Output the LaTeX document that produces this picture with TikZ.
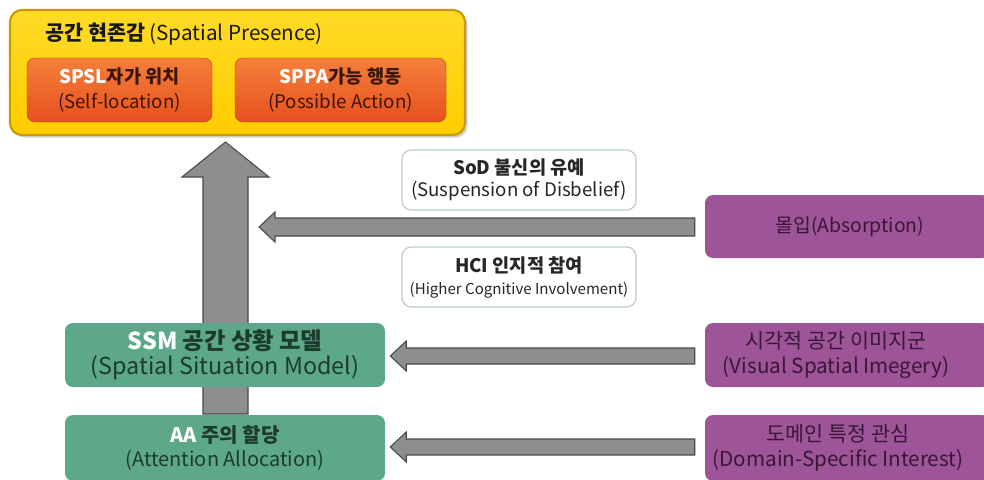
\documentclass[tikz,border=0pt]{standalone}
\usepackage{fontspec}
\setmainfont{Noto Sans CJK KR}
\usetikzlibrary{calc,shadows}
\definecolor{goldfill}{HTML}{FFD400}
\definecolor{goldedge}{HTML}{C99A00}
\definecolor{orangetop}{HTML}{F5803A}
\definecolor{orangebot}{HTML}{E6501E}
\definecolor{orangetxt}{HTML}{3B1606}
\definecolor{greenfill}{HTML}{5DA88A}
\definecolor{greentxt}{HTML}{1D3A2E}
\definecolor{purplefill}{HTML}{9D5498}
\definecolor{purpletxt}{HTML}{3A1637}
\definecolor{arrowgray}{HTML}{8E8E8E}
\definecolor{arrowedge}{HTML}{4A4A4A}
\definecolor{boxedge}{HTML}{B9CFC6}
\newcommand{\fsz}[2]{\fontsize{#1}{#2}\selectfont}
\tikzset{
  x=0.75pt, y=-0.75pt,
  presence/.style={rounded corners=9pt, draw=goldedge, line width=1.6pt,
    top color=goldfill!85!white, bottom color=goldfill!92!orange,
    drop shadow={shadow xshift=2pt, shadow yshift=-2pt, opacity=0.35},
    minimum width=341.25pt, minimum height=93.75pt},
  subbox/.style={rounded corners=6pt, top color=orangetop, bottom color=orangebot,
    draw=orangebot!80!black, line width=0.3pt, text=orangetxt,
    minimum width=#1, minimum height=48pt, align=center, font=\fsz{14}{18.5}},
  notebox/.style={rounded corners=7pt, fill=white, draw=boxedge, line width=0.9pt,
    minimum width=175.5pt, minimum height=45pt, align=center, text=black!85,
    font=\fsz{14}{16.5}},
  stagebox/.style={rounded corners=6pt, fill=greenfill, draw=none, text=greentxt,
    minimum width=240pt, minimum height=48pt, align=center},
  factorbox/.style={rounded corners=6pt, fill=purplefill, draw=none,
    minimum width=213.75pt, minimum height=48pt},
  factortext/.style={text=purpletxt, align=center, font=\fsz{15.5}{18.75}},
  arrowbody/.style={fill=arrowgray, draw=arrowedge, line width=0.8pt, line join=miter},
}
\begin{document}
\begin{tikzpicture}
\useasboundingbox (0,0) rectangle (984,479);
\begin{scope}
\clip (0,0) rectangle (984,479);

% main upward arrow, behind the stage boxes
\coordinate (upTip) at (225.5,142);
\coordinate (upFoot) at (225.5,414);
\draw[arrowbody] ($(upFoot)+(-22.5,0)$) -- ($(upTip)+(-22.5,35)$) -- ($(upTip)+(-43.5,35)$)
  -- (upTip) -- ($(upTip)+(43.5,35)$) -- ($(upTip)+(22.5,35)$) -- ($(upFoot)+(22.5,0)$) -- cycle;

% spatial presence container
\node[presence] (sp) at (237.5,72.5) {};
\node[anchor=west, font=\fsz{15.5}{18}, text=black!90, inner sep=0pt] (sptitle) at (45,34)
  {\textbf{공간 현존감} (Spatial Presence)};
\node[subbox=138.75pt] (spsl) at (119.5,90)
  {{\bfseries\textcolor{white}{SPSL}자가 위치}\\(Self-location)};
\node[subbox=158.25pt] (sppa) at (340.5,90)
  {{\bfseries\textcolor{white}{SPPA}가능 행동}\\(Possible Action)};

% notes beside the main arrow
\node[notebox] (sod) at (519,180) {\textbf{SoD 불신의 유예}\\(Suspension of Disbelief)};
\node[notebox] (hci) at (519,277)
  {\textbf{HCI 인지적 참여}\\{\fsz{11.3}{14}(Higher Cognitive Involvement)}};

% stage boxes
\node[stagebox, font=\fsz{17.5}{19}] (ssm) at (225,355)
  {\textbf{\textcolor{white}{SSM} 공간 상황 모델}\\(Spatial Situation Model)};
\node[stagebox, minimum height=49.5pt, font=\fsz{15}{18}] (aa) at (225,448)
  {\textbf{\textcolor{white}{AA} 주의 할당}\\(Attention Allocation)};

% influencing factors
\node[factorbox, minimum height=47.25pt] (abs) at (847.5,226.5) {};
\node[factortext, font=\fsz{14.5}{17}] (abstxt) at (850,226.5) {몰입(Absorption)};
\node[factorbox] (vsi) at (847.5,355) {};
\node[factortext] (vsitxt) at (836,355) {시각적 공간 이미지군\\(Visual Spatial Imegery)};
\node[factorbox, minimum height=49.5pt] (dsi) at (847.5,448) {};
\node[factortext] (dsitxt) at (838,448) {도메인 특정 관심\\(Domain-Specific Interest)};

% horizontal arrows from factors
\coordinate (absTip) at (259,227);
\draw[arrowbody] ($(abs.west |- absTip)+(-10,-9)$) -- ($(absTip)+(16,-9)$) -- ($(absTip)+(16,-15)$)
  -- (absTip) -- ($(absTip)+(16,15)$) -- ($(absTip)+(16,9)$) -- ($(abs.west |- absTip)+(-10,9)$) -- cycle;
\coordinate (ssmTip) at ($(ssm.east)+(5,1)$);
\draw[arrowbody] ($(vsi.west |- ssmTip)+(-10,-8)$) -- ($(ssmTip)+(16,-8)$) -- ($(ssmTip)+(16,-15)$)
  -- (ssmTip) -- ($(ssmTip)+(16,15)$) -- ($(ssmTip)+(16,8)$) -- ($(vsi.west |- ssmTip)+(-10,8)$) -- cycle;
\coordinate (aaTip) at ($(aa.east)+(5,-1)$);
\draw[arrowbody] ($(dsi.west |- aaTip)+(-10,-8)$) -- ($(aaTip)+(16,-8)$) -- ($(aaTip)+(16,-15)$)
  -- (aaTip) -- ($(aaTip)+(16,15)$) -- ($(aaTip)+(16,8)$) -- ($(dsi.west |- aaTip)+(-10,8)$) -- cycle;
\end{scope}
\end{tikzpicture}
\end{document}
